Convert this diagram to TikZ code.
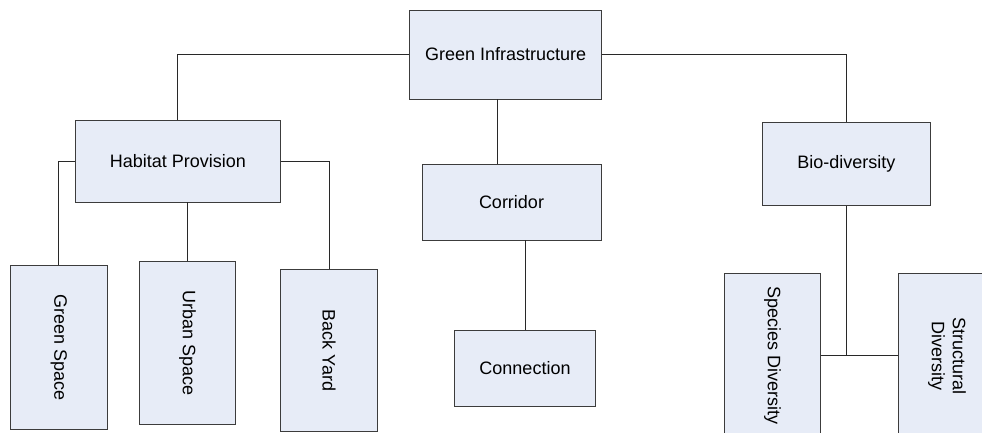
\documentclass[tikz,border=0pt]{standalone}
\usepackage{fontspec}
\setmainfont{Liberation Sans}
\usepackage{graphicx}
\definecolor{boxfill}{RGB}{231,236,247}
\definecolor{boxline}{RGB}{60,60,60}
\definecolor{conline}{RGB}{40,40,40}
\begin{document}
\begin{tikzpicture}[x=1pt,y=-1pt,
  box/.style={draw=boxline,fill=boxfill,line width=0.9pt,inner sep=0pt,
    font=\fontsize{18}{21}\selectfont,align=center},
  con/.style={draw=conline,line width=0.9pt}]
\clip (0,0) rectangle (982,433);
\fill[white] (0,0) rectangle (982,433);
% level 0
\node[box,minimum width=192,minimum height=89] (GI) at (505.6,54.5) {Green Infrastructure};
% level 1
\node[box,minimum width=205.7,minimum height=81.3] (HP) at (177.9,161.3) {Habitat Provision};
\node[box,minimum width=179,minimum height=76] (CO) at (511.5,202) {Corridor};
\node[box,minimum width=167.3,minimum height=83] (BD) at (846.3,163.8) {Bio-diversity};
% level 2
\node[box,minimum width=96.3,minimum height=163.3] (GS) at (58.8,347.3) {\rotatebox{-90}{Green Space}};
\node[box,minimum width=96.4,minimum height=162.3] (US) at (187.5,342.8) {\rotatebox{-90}{Urban Space}};
\node[box,minimum width=96.6,minimum height=162.4] (BY) at (329,350.5) {\rotatebox{-90}{Back Yard}};
\node[box,minimum width=141.4,minimum height=76.7] (CN) at (525,368.3) {Connection};
\node[box,minimum width=96.4,minimum height=164.3] (SP) at (772.5,355.9) {\rotatebox{-90}{Species Diversity}};
\node[box,minimum width=96.4,minimum height=164.3] (SD) at (946.5,355.9) {\rotatebox{-90}{\begin{tabular}{@{}c@{}}Structural\\Diversity\end{tabular}}};
% connectors
\draw[con] (GI.west) -| (HP.north);
\draw[con] (GI.east) -| (BD.north);
\draw[con] ([xshift=-8pt]GI.south) -- ([xshift=-8pt]GI.south |- CO.north);
\draw[con] (CN.north) -- (CN.north |- CO.south);
\draw[con] (HP.west) -| (GS.north);
\draw[con] (US.north) -- (US.north |- HP.south);
\draw[con] (HP.east) -| (BY.north);
\draw[con] (SP.east) -- (SD.west);
\draw[con] (BD.south) -- (BD.south |- SP.east);
\end{tikzpicture}
\end{document}
